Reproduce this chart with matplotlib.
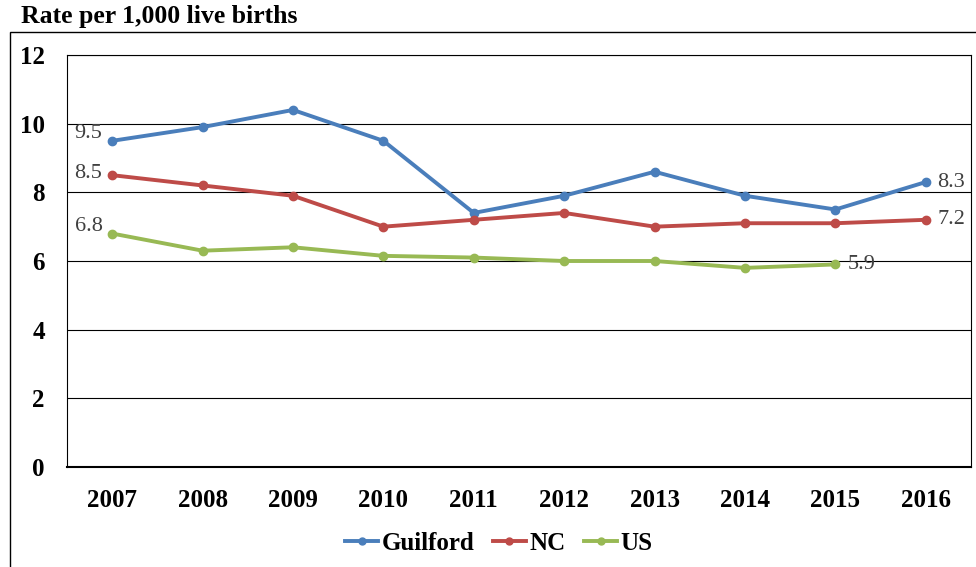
import matplotlib.pyplot as plt
from matplotlib.patches import Rectangle

years = ['2007', '2008', '2009', '2010', '2011', '2012', '2013', '2014', '2015', '2016']
guilford = [9.5, 9.9, 10.4, 9.5, 7.4, 7.9, 8.6, 7.9, 7.5, 8.3]
nc = [8.5, 8.2, 7.9, 7.0, 7.2, 7.4, 7.0, 7.1, 7.1, 7.2]
us = [6.8, 6.3, 6.4, 6.15, 6.1, 6.0, 6.0, 5.8, 5.9]

plt.rcParams['font.family'] = ['Liberation Serif', 'DejaVu Serif']

fig = plt.figure(figsize=(9.76, 5.67), dpi=100)
# outer chart frame
fig.patches.append(Rectangle((10 / 976, -0.1), 1.0, 1 - 32 / 567 + 0.1,
                             transform=fig.transFigure, fill=False,
                             edgecolor='black', linewidth=1.0))
fig.text(21 / 976, 1 - 17 / 567, 'Rate per 1,000 live births', fontsize=18.5,
         fontweight='bold', va='center', ha='left')

ax = fig.add_axes([67 / 976, 1 - 467 / 567, (971 - 67) / 976, (467 - 55) / 567])

x = range(len(years))
ax.plot(x, guilford, color='#4a7ebb', lw=2.8, marker='o', ms=6, label='Guilford')
ax.plot(x, nc, color='#be4b48', lw=2.8, marker='o', ms=6, label='NC')
ax.plot(range(len(us)), us, color='#98b954', lw=2.8, marker='o', ms=6, label='US')

ax.set_xlim(-0.5, len(years) - 0.5)
ax.set_ylim(0, 12)
ax.set_yticks(range(0, 13, 2))
ax.set_xticks(list(x))
ax.set_xticklabels(years)
ax.yaxis.grid(True, color='black', lw=0.8)
ax.set_axisbelow(True)
ax.tick_params(length=0, labelsize=18)
ax.tick_params(axis='y', pad=16)
ax.tick_params(axis='x', pad=16)
for lab in ax.get_xticklabels() + ax.get_yticklabels():
    lab.set_fontweight('bold')
for s in ax.spines.values():
    s.set_color('black')
    s.set_linewidth(0.8)
ax.spines['bottom'].set_linewidth(1.5)

lbl = dict(fontsize=16, color='#404040')
ax.annotate(f'{guilford[0]}', (0, guilford[0]), xytext=(-7, 5), textcoords='offset points', ha='right', va='center', **lbl)
ax.annotate(f'{nc[0]}', (0, nc[0]), xytext=(-7, 1), textcoords='offset points', ha='right', va='center', **lbl)
ax.annotate(f'{us[0]}', (0, us[0]), xytext=(-7, 5), textcoords='offset points', ha='right', va='center', **lbl)
ax.annotate(f'{guilford[-1]}', (9, guilford[-1]), xytext=(8.5, 0), textcoords='offset points', ha='left', va='center', **lbl)
ax.annotate(f'{nc[-1]}', (9, nc[-1]), xytext=(8.5, 0), textcoords='offset points', ha='left', va='center', **lbl)
ax.annotate(f'{us[-1]}', (8, us[-1]), xytext=(8.5, 0), textcoords='offset points', ha='left', va='center', **lbl)

leg = fig.legend(loc='center', bbox_to_anchor=(499 / 976, 1 - 543 / 567), ncol=3,
                 frameon=False, prop={'size': 18, 'weight': 'bold'},
                 handlelength=1.3, columnspacing=0.75, handletextpad=0.15)
for h in leg.legend_handles:
    h.set_markersize(5)

fig.savefig('out.png', dpi=100)
